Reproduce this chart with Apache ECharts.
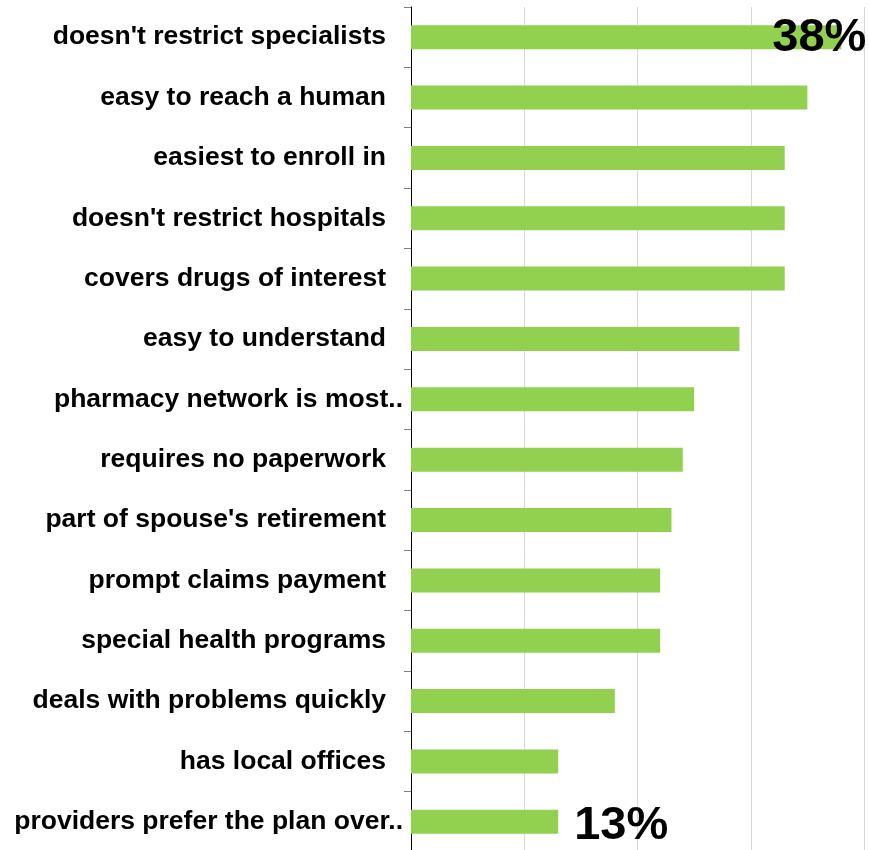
<!DOCTYPE html>
<html>
<head>
<meta charset="utf-8">
<script src="https://cdn.jsdelivr.net/npm/echarts@6/dist/echarts.min.js"></script>
<style>
  html, body { margin: 0; padding: 0; background: #ffffff; }
  #chart { width: 869px; height: 850px; }
</style>
</head>
<body>
<div id="chart"></div>
<script>
// Reasons for choosing a plan, share of respondents (%)
const categories = [
  "doesn't restrict specialists",
  "easy to reach a human",
  "easiest to enroll in",
  "doesn't restrict hospitals",
  "covers drugs of interest",
  "easy to understand",
  "pharmacy network is most..",
  "requires no paperwork",
  "part of spouse's retirement",
  "prompt claims payment",
  "special health programs",
  "deals with problems quickly",
  "has local offices",
  "providers prefer the plan over.."
];
const shares = [38, 35, 33, 33, 33, 29, 25, 24, 23, 22, 22, 18, 13, 13];
// Only the top and bottom bars carry a value label
const labelledIndexes = [0, 13];

const FONT = "'Liberation Sans', Arial, Helvetica, sans-serif";

// Shortened names sit closer to the axis; full names keep a trailing gap
const categoryItems = categories.map((name) => ({
  value: name,
  textStyle: { padding: name.endsWith('..') ? [0, 0, 0, 0] : [0, 17, 0, 0] }
}));

const labelStyleFor = {
  0:  { position: 'insideRight', offset: [30, 1] },
  13: { position: 'right', distance: 16, offset: [0, 4] }
};

const barData = shares.map((v, i) => {
  const item = { value: v };
  if (labelledIndexes.includes(i)) {
    item.label = Object.assign({
      show: true,
      formatter: (p) => p.value + '%',
      color: '#000000',
      fontFamily: FONT,
      fontWeight: 'bold',
      fontSize: 47
    }, labelStyleFor[i]);
  }
  return item;
});

const chart = echarts.init(document.getElementById('chart'), null, { renderer: 'canvas' });
chart.setOption({
  animation: false,
  backgroundColor: '#ffffff',
  grid: { left: 411, right: 5, top: 7, bottom: -2, containLabel: false, outerBoundsMode: 'none' },
  xAxis: {
    type: 'value',
    min: 0,
    max: 40,
    interval: 10,
    axisLine: { show: false },
    axisTick: { show: false },
    axisLabel: { show: false },
    splitLine: { show: true, lineStyle: { color: '#d9d9d9', width: 1 } }
  },
  yAxis: {
    type: 'category',
    inverse: true,
    data: categoryItems,
    boundaryGap: true,
    axisLine: { show: true, lineStyle: { color: '#000000', width: 1 } },
    axisTick: { show: true, length: 7, lineStyle: { color: '#808080', width: 1 } },
    axisLabel: {
      margin: 8,
      color: '#000000',
      fontFamily: FONT,
      fontWeight: 'bold',
      fontSize: 26.5
    },
    splitLine: { show: false }
  },
  series: [{
    type: 'bar',
    data: barData,
    barWidth: 24,
    itemStyle: { color: '#92d050' },
    label: { show: false }
  }]
});
</script>
</body>
</html>
